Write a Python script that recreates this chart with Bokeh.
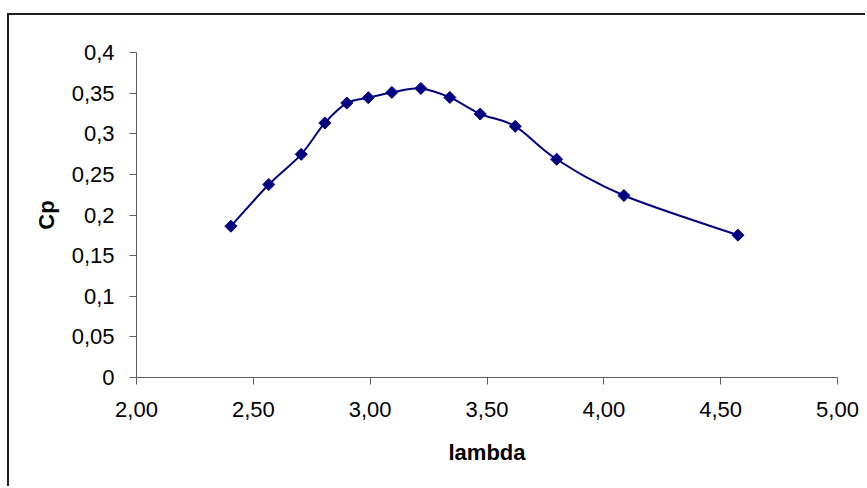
import numpy as np
from bokeh.plotting import figure
from bokeh.models import FixedTicker, Range1d
from bokeh.embed import file_html
from bokeh.resources import INLINE

# ---- data ----
lam = [2.404, 2.566, 2.705, 2.806, 2.900, 2.992, 3.093, 3.217, 3.341, 3.471, 3.621, 3.798, 4.086, 4.574]
cp = [0.1862, 0.2375, 0.2747, 0.3133, 0.3378, 0.3444, 0.3509, 0.3558, 0.3447, 0.3243, 0.3091, 0.2686, 0.2240, 0.1752]

x_ticks = [2.0, 2.5, 3.0, 3.5, 4.0, 4.5, 5.0]
x_tick_labels = ["2,00", "2,50", "3,00", "3,50", "4,00", "4,50", "5,00"]
y_ticks = [0.0, 0.05, 0.1, 0.15, 0.2, 0.25, 0.3, 0.35, 0.4]
y_tick_labels = ["0", "0,05", "0,1", "0,15", "0,2", "0,25", "0,3", "0,35", "0,4"]

x_label = "lambda"
y_label = "Cp"

NAVY = "#000080"
AXIS = "#5f5f5f"
FONT = "Liberation Sans"

p = figure(
    width=858, height=473,
    x_range=Range1d(2.0, 5.0), y_range=Range1d(0.0, 0.4),
    output_backend="svg", toolbar_location=None,
    min_border_left=127, min_border_right=30,
    min_border_top=37, min_border_bottom=111,
    background_fill_color="white", border_fill_color="white",
)
p.outline_line_color = None
p.xgrid.visible = False
p.ygrid.visible = False
p.styles = {
    "margin-top": "13px",
    "margin-left": "7px",
    "border-top": "2px solid #1e1e1e",
    "border-left": "2px solid #1e1e1e",
}

# smoothed line (Catmull-Rom style bezier segments through the points)
xa = np.array(lam)
ya = np.array(cp)
n = len(xa)
xp = np.concatenate([[xa[0]], xa, [xa[-1]]])
yp = np.concatenate([[ya[0]], ya, [ya[-1]]])
x0 = xa[:-1]; y0 = ya[:-1]
x1 = xa[1:]; y1 = ya[1:]
cx0 = xp[1:n] + (xp[2:n + 1] - xp[0:n - 1]) / 6.0
cy0 = yp[1:n] + (yp[2:n + 1] - yp[0:n - 1]) / 6.0
cx1 = xp[2:n + 1] - (xp[3:n + 2] - xp[1:n]) / 6.0
cy1 = yp[2:n + 1] - (yp[3:n + 2] - yp[1:n]) / 6.0
p.bezier(x0=x0, y0=y0, x1=x1, y1=y1, cx0=cx0, cy0=cy0, cx1=cx1, cy1=cy1,
         line_color=NAVY, line_width=2)

p.scatter(lam, cp, marker="square", size=8.5, angle=np.pi / 4,
          fill_color=NAVY, line_color=NAVY, line_width=1)

for ax in (p.xaxis[0], p.yaxis[0]):
    ax.axis_line_color = AXIS
    ax.axis_line_width = 1
    ax.major_tick_line_color = AXIS
    ax.major_tick_in = 0
    ax.major_tick_out = 7
    ax.minor_tick_line_color = None
    ax.major_label_text_font = FONT
    ax.major_label_text_font_size = "22px"
    ax.major_label_text_color = "black"
    ax.axis_label_text_font = FONT
    ax.axis_label_text_font_size = "22px"
    ax.axis_label_text_font_style = "bold"
    ax.axis_label_text_color = "black"

p.xaxis.ticker = FixedTicker(ticks=x_ticks)
p.xaxis.major_label_overrides = {t: l for t, l in zip(x_ticks, x_tick_labels)}
p.yaxis.ticker = FixedTicker(ticks=y_ticks)
p.yaxis.major_label_overrides = {t: l for t, l in zip(y_ticks, y_tick_labels)}
p.xaxis.axis_label = x_label
p.yaxis.axis_label = y_label
p.xaxis.major_label_standoff = 17
p.yaxis.major_label_standoff = 15
p.xaxis.axis_label_standoff = 20
p.yaxis.axis_label_standoff = 10

open("out.html", "w").write(file_html(p, INLINE))
